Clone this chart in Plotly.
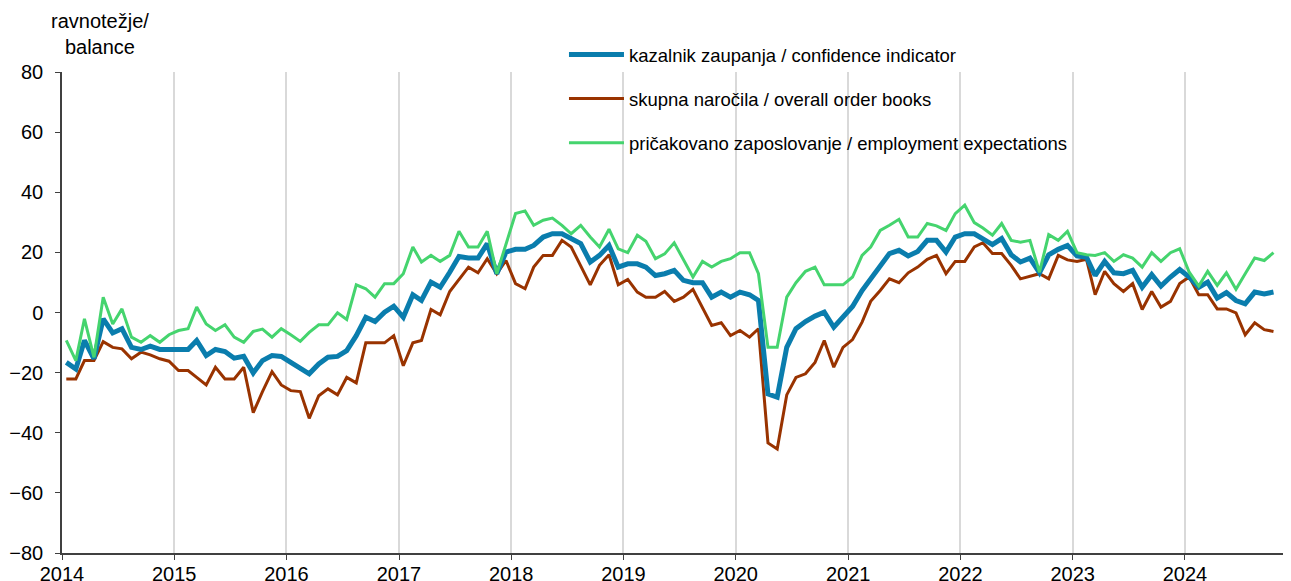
import pandas as pd
import plotly.graph_objects as go

# mesečni podatki, jan 2014 - okt 2024
months = pd.date_range('2014-01-01', periods=130, freq='MS') + pd.Timedelta(days=14)

confidence = [
    -16.6, -18.8, -9.3, -15.4, -2.1, -6.8, -5.4, -11.6, -12.3, -11.2, -12.3, -12.3,
    -12.3, -12.3, -9.3, -14.3, -12.3, -13.0, -15.2, -14.6, -20.1, -16.0, -14.3, -14.6,
    -16.6, -18.8, -20.4, -17.1, -14.9, -14.6, -12.7, -7.7, -1.6, -3.0, 0.1, 2.1,
    -1.6, 5.9, 4.0, 10.1, 8.4, 13.4, 18.6, 18.1, 18.1, 22.9, 12.9, 20.1,
    21.0, 21.0, 22.3, 25.1, 26.2, 26.2, 24.6, 22.9, 16.8, 19.0, 22.3, 15.1,
    16.2, 16.2, 15.1, 12.3, 12.9, 14.0, 10.7, 9.9, 9.9, 5.1, 6.8, 5.1,
    6.8, 5.9, 4.0, -27.1, -28.2, -11.6, -5.4, -3.0, -1.2, 0.1, -4.9, -1.6,
    2.0, 7.3, 11.2, 15.1, 19.6, 20.7, 18.8, 20.3, 24.0, 24.0, 20.1, 25.1,
    26.2, 26.2, 24.6, 22.6, 24.6, 19.2, 16.8, 18.1, 13.2, 19.2, 21.0, 22.3,
    18.8, 18.4, 12.3, 17.0, 13.2, 12.9, 14.0, 8.4, 12.6, 8.8, 11.8, 14.3,
    11.8, 8.4, 10.1, 4.8, 6.6, 4.0, 2.9, 6.8, 6.2, 6.8,
]

order_books = [
    -22.1, -22.1, -16.0, -16.0, -9.7, -11.6, -12.1, -15.4, -13.2, -14.1, -15.4, -16.2,
    -19.3, -19.3, -21.6, -24.1, -18.2, -22.1, -22.1, -18.2, -33.3, -26.3, -19.7, -24.1,
    -26.0, -26.3, -35.2, -27.7, -25.4, -27.4, -21.6, -23.4, -10.1, -10.1, -10.1, -7.7,
    -17.7, -10.1, -9.3, 1.0, -0.8, 7.0, 11.0, 15.1, 13.2, 17.9, 12.9, 17.3,
    9.6, 7.9, 15.1, 19.0, 19.0, 24.0, 21.8, 15.7, 9.2, 15.7, 19.2, 9.2,
    11.0, 6.8, 5.1, 5.1, 7.0, 3.7, 5.1, 7.7, 1.8, -4.3, -3.4, -7.7,
    -6.0, -8.2, -5.4, -43.4, -45.4, -27.4, -21.6, -20.4, -16.6, -9.3, -18.2, -11.6,
    -9.0, -3.2, 3.7, 7.3, 11.2, 9.9, 13.2, 15.1, 17.7, 19.0, 12.9, 17.0,
    17.0, 21.8, 23.2, 19.6, 19.6, 15.7, 11.2, 12.1, 12.9, 11.2, 19.0, 17.5,
    17.0, 17.7, 5.9, 13.7, 9.6, 7.0, 9.6, 1.0, 7.0, 1.8, 3.7, 9.6,
    11.8, 5.9, 5.9, 1.2, 1.2, -0.1, -7.4, -3.4, -5.7, -6.3,
]

employment = [
    -9.3, -16.0, -2.1, -14.9, 5.1, -3.8, 1.2, -8.2, -9.9, -7.7, -9.9, -7.4,
    -6.0, -5.4, 1.8, -3.8, -6.0, -4.1, -8.2, -9.9, -6.3, -5.5, -8.2, -5.4,
    -7.4, -9.6, -6.6, -4.1, -4.1, -0.1, -2.3, 9.2, 7.9, 5.1, 9.6, 9.6,
    12.9, 21.8, 16.8, 19.0, 17.0, 19.0, 27.0, 21.8, 21.8, 27.0, 12.9, 22.9,
    32.9, 33.8, 29.0, 30.7, 31.4, 29.0, 26.2, 29.0, 25.1, 21.8, 27.7, 21.2,
    19.9, 25.7, 23.7, 17.9, 19.5, 23.2, 17.6, 11.8, 17.0, 15.1, 17.0, 17.9,
    19.9, 19.9, 12.9, -11.6, -11.6, 5.1, 9.9, 13.7, 15.1, 9.2, 9.2, 9.2,
    11.8, 19.0, 21.8, 27.3, 29.0, 31.0, 25.1, 25.1, 29.6, 28.8, 27.3, 32.9,
    35.7, 29.9, 28.1, 25.7, 29.6, 24.0, 23.4, 24.0, 13.4, 25.9, 24.0, 27.0,
    19.9, 19.2, 19.0, 19.9, 17.0, 19.2, 18.1, 15.1, 19.9, 17.0, 19.9, 21.2,
    13.4, 8.8, 13.7, 9.0, 13.2, 7.7, 12.9, 18.1, 17.3, 19.9,
]

year_ticks = [f'{y}-01-01' for y in range(2014, 2025)]
year_labels = [str(y) for y in range(2014, 2025)]

fig = go.Figure()
fig.add_trace(go.Scatter(x=months, y=order_books, mode='lines',
                         name='skupna naročila / overall order books',
                         line=dict(color='#993300', width=3),
                         legendgroup='b', legendrank=2))
fig.add_trace(go.Scatter(x=months, y=confidence, mode='lines',
                         name='kazalnik zaupanja / confidence indicator',
                         line=dict(color='#0A7DAD', width=5),
                         legendgroup='a', legendrank=1))
fig.add_trace(go.Scatter(x=months, y=employment, mode='lines',
                         name='pričakovano zaposlovanje / employment expectations',
                         line=dict(color='#45D46E', width=3),
                         legendgroup='c', legendrank=3))

# stran ima 8px roba, zato so robovi zamaknjeni
fig.update_layout(
    width=1291, height=581,
    margin=dict(l=54, r=0, t=64, b=36, autoexpand=False),
    paper_bgcolor='white',
    plot_bgcolor='white',
    font=dict(family='Liberation Sans, Arial, sans-serif', size=20, color='#000000'),
    legend=dict(x=0.4058, y=1.0748, xanchor='left', yanchor='top',
                bgcolor='rgba(0,0,0,0)', font=dict(size=18.5),
                tracegroupgap=17, itemwidth=55),
    xaxis=dict(type='date', range=['2014-01-01', '2025-01-06'],
               tickvals=year_ticks, ticktext=year_labels,
               showgrid=True, gridcolor='#d9d9d9', gridwidth=1.5,
               showline=True, linecolor='#404040', linewidth=1.5,
               ticks='outside', ticklen=5, tickcolor='#404040',
               ticklabelstandoff=-3,
               zeroline=False, automargin=False),
    yaxis=dict(range=[-80, 80], tickvals=list(range(-80, 81, 20)),
               showgrid=False, zeroline=False,
               showline=True, linecolor='#404040', linewidth=1.5,
               ticks='outside', ticklen=5, tickcolor='#404040',
               ticklabelstandoff=8, automargin=False),
    annotations=[dict(text='ravnotežje/<br>balance', xref='paper', yref='paper',
                      x=0.0307, y=1.025, xanchor='center', yanchor='bottom',
                      showarrow=False, font=dict(size=20))],
)

fig.write_html("out.html")
